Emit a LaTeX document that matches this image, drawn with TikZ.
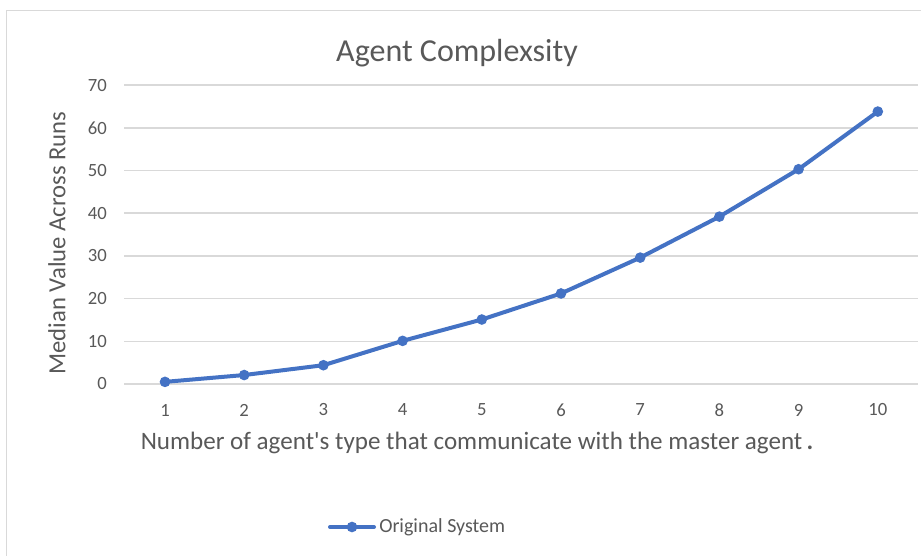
\documentclass[tikz,border=0pt]{standalone}
\usepackage{fontspec}
\setmainfont{Carlito}
% same face without TeX ligature mapping, so ' stays a straight quote
\newfontfamily\rawcarlito{Carlito}
\definecolor{series}{HTML}{4472C4}
\definecolor{gridc}{HTML}{D9D9D9}
\definecolor{txt}{HTML}{595959}
\begin{document}
\begin{tikzpicture}[x=0.75pt,y=-0.75pt,
  gridline/.style={draw=gridc,line width=1.1pt},
  frameline/.style={draw=gridc,line width=1.3pt},
  ticklabel/.style={text=txt,font=\fontsize{14}{16}\selectfont,inner sep=0pt},
  axtitle/.style={text=txt,font=\fontsize{18.5}{20}\selectfont,inner sep=0pt},
  charttitle/.style={text=txt,font=\fontsize{24}{28}\selectfont,inner sep=0pt},
  serline/.style={draw=series,line width=3pt,line join=round,line cap=round},
  marker/.style={circle,fill=series,minimum size=8pt,inner sep=0pt}]
\useasboundingbox (0,0) rectangle (921,556);
\fill[white] (0,0) rectangle (921,556);
% chart area frame (runs off the right and bottom)
\draw[frameline] (6.5,560) -- (6.5,10.5) -- (925,10.5);
% title
\node[charttitle] (title) at (457,53) {Agent Complexsity};
% horizontal grid and value labels
\foreach \v in {0,10,...,70} {
  \draw[gridline] (124,{384-\v*4.27}) -- (918,{384-\v*4.27});
  \node[ticklabel,anchor=east] (y\v) at (107,{384-\v*4.27}) {\v};
}
% category labels
\foreach \i in {1,...,10} {
  \node[ticklabel] (x\i) at ({165+(\i-1)*79.2},410) {\i};
}
% axis titles
\node[axtitle,rotate=90] (ytitle) at (57,243) {Median Value Across Runs};
\node[axtitle,font=\rawcarlito\fontsize{18.8}{21}\selectfont] (xtitle) at (477,443) {Number of agent's type that communicate with the master agent\,\textbf{.}};
% data series
\foreach \i/\v in {1/0.5,2/2.1,3/4.4,4/10.1,5/15.1,6/21.2,7/29.6,8/39.2,9/50.3,10/63.8} {
  \coordinate (p\i) at ({165+(\i-1)*79.2},{384-\v*4.27});
}
\draw[serline] (p1) -- (p2) -- (p3) -- (p4) -- (p5) -- (p6) -- (p7) -- (p8) -- (p9) -- (p10);
\foreach \i in {1,...,10} { \node[marker] (m\i) at (p\i) {}; }
% legend
\coordinate (la) at (330,527);
\coordinate (lb) at (374,527);
\draw[serline] (la) -- (lb);
\node[marker] (lm) at (352,527) {};
\node[ticklabel,anchor=west,font=\fontsize{15}{17}\selectfont] (ltext) at (379,527) {Original System};
\end{tikzpicture}
\end{document}
